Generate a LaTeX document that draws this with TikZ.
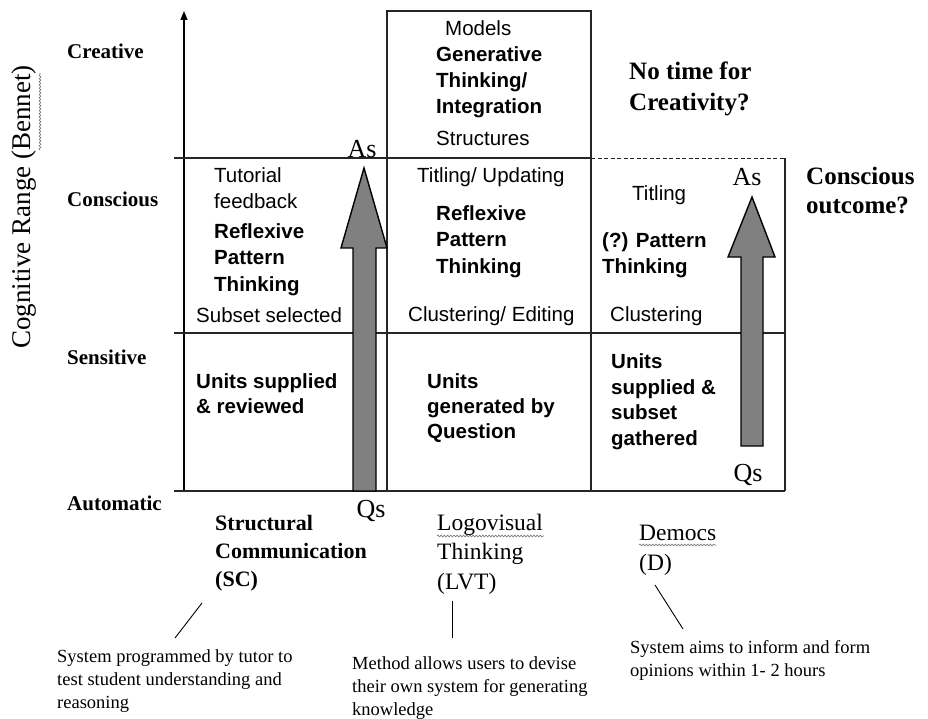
\documentclass[tikz,border=0pt]{standalone}
\usepackage{fontspec}
\setmainfont{Liberation Serif}
\setsansfont{Liberation Sans}
\usetikzlibrary{arrows.meta,decorations.pathmorphing}
\begin{document}
\begin{tikzpicture}[x=1pt,y=-1pt,
  gridline/.style={line width=1.1pt,draw=black!85},
  blockarrow/.style={fill=black!50,draw=black,line width=1.4pt,line join=miter},
  squiggle/.style={draw=black!55,line width=0.6pt,decorate,decoration={snake,amplitude=0.9pt,segment length=3.2pt}},
  lvl/.style={font=\fontsize{21}{25}\selectfont\bfseries,anchor=base west,inner sep=0pt},
  cell/.style={font=\fontsize{20.5}{26}\selectfont\sffamily,anchor=base west,inner sep=0pt,align=left},
  cellb/.style={font=\fontsize{20.5}{26.5}\selectfont\sffamily\bfseries,anchor=base west,inner sep=0pt,align=left},
  cellc/.style={font=\fontsize{20.5}{25.5}\selectfont\sffamily\bfseries,anchor=base west,inner sep=0pt,align=left},
  aq/.style={font=\fontsize{26}{30}\selectfont,anchor=base,inner sep=0pt},
  big/.style={font=\fontsize{25}{31}\selectfont\bfseries,anchor=base west,inner sep=0pt,align=left},
  meth/.style={font=\fontsize{23.5}{29.5}\selectfont,anchor=base west,inner sep=0pt,align=left},
  note/.style={font=\fontsize{18.5}{22.8}\selectfont,anchor=base west,inner sep=0pt,align=left},
  link/.style={line width=0.9pt,draw=black}
]
\useasboundingbox (0,0) rectangle (928,719);
\fill[white] (0,0) rectangle (928,719);

% axis
\draw[line width=1.1pt,-{Triangle[width=7pt,length=9pt]}] (184,491) -- (184,11);

% grid lines
\draw[gridline] (174,158) -- (591,158);
\draw[gridline,dash pattern=on 4pt off 2.5pt,line width=0.9pt] (591,158) -- (785,158);
\draw[gridline] (174,333) -- (785,333);
\draw[gridline] (174,491) -- (785,491);
\draw[gridline] (387,11) rectangle (591,158);
\draw[gridline] (387,158) -- (387,491);
\draw[gridline] (591,158) -- (591,491);
\draw[gridline] (785,158) -- (785,491);

% block arrows
\draw[blockarrow] (353,491) -- (353,248) -- (341,248) -- (364,168) -- (387,248) -- (376,248) -- (376,491) -- cycle;
\draw[blockarrow] (741,446) -- (741,257) -- (728,257) -- (752,197) -- (775,257) -- (763,257) -- (763,446) -- cycle;

\node[aq] (as1) at (362,158) {As};
\node[aq] (qs1) at (371,517) {Qs};
\node[aq] (as2) at (747,186) {As};
\node[aq] (qs2) at (748,481) {Qs};

% vertical axis title
\node[font=\fontsize{27}{30}\selectfont,rotate=90,inner sep=0pt] (range) at (24,207) {Cognitive Range (Bennet)};
\draw[squiggle] (40,150) -- (40,73);

% level labels
\node[lvl] (creative) at (67,59) {Creative};
\node[lvl] (conscious) at (67,207) {Conscious};
\node[lvl] (sensitive) at (67,364) {Sensitive};
\node[lvl] (automatic) at (67,510) {Automatic};

% SC column (anchors: baseline of last line)
\node[cell] (tut) at (214,209) {Tutorial\\feedback};
\node[cellb] (rpt1) at (214,291) {Reflexive\\Pattern\\Thinking};
\node[cell] (subset) at (196,322) {Subset selected};
\node[cellb,font=\fontsize{20.5}{25}\selectfont\sffamily\bfseries] (units1) at (196,413) {Units supplied\\\& reviewed};

% LVT column
\node[cell] (models) at (445,36) {Models};
\node[cellb,font=\fontsize{20.5}{26}\selectfont\sffamily\bfseries] (gen) at (436,114) {Generative\\Thinking/\\Integration};
\node[cell] (struct) at (436,146) {Structures};
\node[cell] (titup) at (417,183) {Titling/ Updating};
\node[cellb] (rpt2) at (436,273) {Reflexive\\Pattern\\Thinking};
\node[cell] (clued) at (408,321) {Clustering/ Editing};
\node[cellb,font=\fontsize{20.5}{25}\selectfont\sffamily\bfseries] (units2) at (427,438) {Units\\generated by\\Question};

% Democs column
\node[cell] (tit) at (632,201) {Titling};
\node[cellc] (qpt) at (602,273) {(?) Pattern\\Thinking};
\node[cell] (clu) at (610,321) {Clustering};
\node[cellc] (units3) at (611,445) {Units\\supplied \&\\subset\\gathered};

% questions
\node[big] (notime) at (629,111) {No time for\\Creativity?};
\node[big,font=\fontsize{25}{29}\selectfont\bfseries] (consout) at (806,214) {Conscious\\outcome?};

% methods
\node[meth,font=\fontsize{22}{28}\selectfont\bfseries] (sc) at (215,586) {Structural\\Communication\\(SC)};
\node[meth] (lvt) at (437,589) {Logovisual\\Thinking\\(LVT)};
\draw[squiggle] (437,536) -- (544,536);
\node[meth] (dem) at (639,570) {Democs\\(D)};
\draw[squiggle] (639,545) -- (716,545);

% notes
\node[note] (n1) at (57,708) {System programmed by tutor to\\test student understanding and\\reasoning};
\node[note] (n2) at (352,715) {Method allows users to devise\\their own system for generating\\knowledge};
\node[note] (n3) at (630,676) {System aims to inform and form\\opinions within 1- 2 hours};

\coordinate (l1a) at (202,603);
\coordinate (l1b) at (175,638);
\coordinate (l2a) at (452,601);
\coordinate (l2b) at (452,638);
\coordinate (l3a) at (655,585);
\coordinate (l3b) at (683,629);
\draw[link] (l1a) -- (l1b);
\draw[link] (l2a) -- (l2b);
\draw[link] (l3a) -- (l3b);
\end{tikzpicture}
\end{document}
